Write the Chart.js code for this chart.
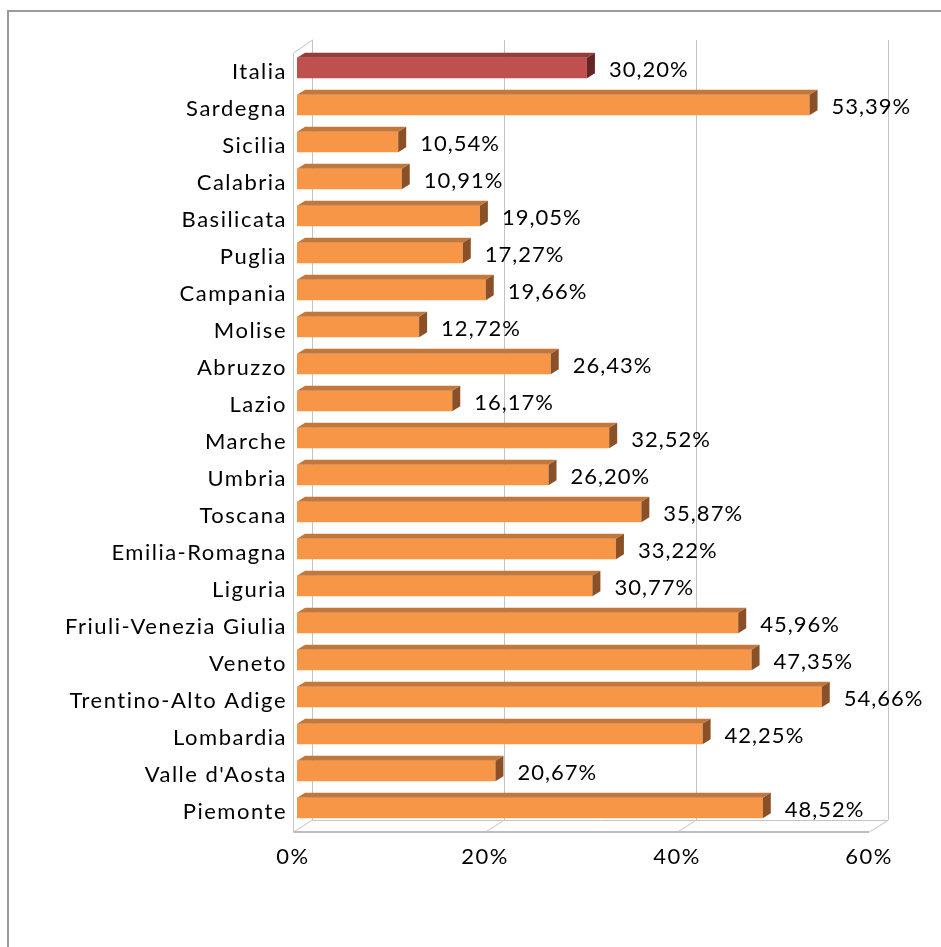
<!DOCTYPE html>
<html>
<head>
<meta charset="utf-8">
<script src="https://cdn.jsdelivr.net/npm/chart.js@4"></script>
<style>
html,body{margin:0;padding:0;background:#fff;}
canvas{display:block;}
</style>
</head>
<body>
<canvas id="c" width="941" height="947"></canvas>
<script>
const categories = ['Italia','Sardegna','Sicilia','Calabria','Basilicata','Puglia','Campania','Molise','Abruzzo','Lazio','Marche','Umbria','Toscana','Emilia-Romagna','Liguria','Friuli-Venezia Giulia','Veneto','Trentino-Alto Adige','Lombardia',"Valle d'Aosta",'Piemonte'];
const values = [30.20,53.39,10.54,10.91,19.05,17.27,19.66,12.72,26.43,16.17,32.52,26.20,35.87,33.22,30.77,45.96,47.35,54.66,42.25,20.67,48.52];
const xTicks = [0,20,40,60];
const highlight = 'Italia';

const FONT = 'Lato, "Open Sans", sans-serif';
const LS = '1.5px';
const colFront = {o:'#F79646', r:'#C0504D'};
const colTop = {o:'#C4773A', r:'#943D3B'};
const colSide = {o:'#8A5027', r:'#632624'};
const DX = 8, DY = -5;
const fmt = v => v.toFixed(2).replace('.', ',') + '%';

const box3d = {
  id: 'box3d',
  beforeDraw(chart) {
    const ctx = chart.ctx;
    ctx.save();
    ctx.fillStyle = '#fff';
    ctx.fillRect(0,0,chart.width,chart.height);
    ctx.strokeStyle = '#9a9a9a';
    ctx.lineWidth = 2;
    ctx.strokeRect(8, 11, 960, 960);
    ctx.restore();
    ctx.letterSpacing = LS;
  },
  beforeDatasetsDraw(chart) {
    const ctx = chart.ctx;
    const xs = chart.scales.x, a = chart.chartArea;
    const fT = a.top + 3.5, fB = a.bottom + 5.5, bT = a.top - 9.5, bB = a.bottom - 6.5;
    const fx = v => xs.getPixelForValue(v) - 4;
    const bx = v => xs.getPixelForValue(v) + 15;
    ctx.save();
    ctx.letterSpacing = '0px';
    ctx.lineWidth = 1;
    ctx.strokeStyle = '#c4c4c4';
    const line = (pts) => { ctx.beginPath(); ctx.moveTo(pts[0][0], pts[0][1]); for (let i=1;i<pts.length;i++) ctx.lineTo(pts[i][0], pts[i][1]); ctx.stroke(); };
    xTicks.forEach(t => {
      if (t === xTicks[0]) return;
      const b = Math.round(bx(t)) + 0.5, f = Math.round(fx(t)) + 0.5;
      line([[b, bT], [b, bB], [f, fB]]);
    });
    const f0 = Math.round(fx(xTicks[0])) + 0.5, b0 = Math.round(bx(xTicks[0])) + 0.5;
    line([[f0, fB], [f0, fT], [b0, bT], [b0, bB], [f0, fB]]);
    const fEnd = fx(xTicks[xTicks.length-1]), bEnd = bx(xTicks[xTicks.length-1]);
    line([[b0, Math.round(bB)+0.5], [bEnd, Math.round(bB)+0.5]]);
    ctx.strokeStyle = '#bdbdbd';
    ctx.lineWidth = 2;
    line([[f0, Math.round(fB)], [fEnd, Math.round(fB)]]);
    ctx.restore();
  },
  afterDatasetsDraw(chart) {
    const ctx = chart.ctx;
    const meta = chart.getDatasetMeta(0);
    ctx.save();
    meta.data.forEach((bar, i) => {
      const k = categories[i] === highlight ? 'r' : 'o';
      const h = bar.height, x0 = bar.base, x1 = bar.x, yT = bar.y - h/2, yB = bar.y + h/2;
      ctx.fillStyle = colTop[k];
      ctx.beginPath();
      ctx.moveTo(x0, yT); ctx.lineTo(x0+DX, yT+DY); ctx.lineTo(x1+DX, yT+DY); ctx.lineTo(x1, yT); ctx.closePath(); ctx.fill();
      ctx.fillStyle = colSide[k];
      ctx.beginPath();
      ctx.moveTo(x1, yT); ctx.lineTo(x1+DX, yT+DY); ctx.lineTo(x1+DX, yB+DY); ctx.lineTo(x1, yB); ctx.closePath(); ctx.fill();
      ctx.fillStyle = '#000';
      ctx.font = '22px ' + FONT;
      ctx.textAlign = 'left';
      ctx.textBaseline = 'middle';
      ctx.letterSpacing = '1px';
      ctx.fillText(fmt(values[i]), x1 + 22, bar.y + 1.5);
    });
    ctx.restore();
  },
  afterDraw(chart) { chart.ctx.letterSpacing = '0px'; }
};

new Chart(document.getElementById('c'), {
  type: 'bar',
  data: {
    labels: categories,
    datasets: [{
      data: values,
      backgroundColor: ctx => categories[ctx.dataIndex] === highlight ? colFront.r : colFront.o,
      borderWidth: 0,
      barPercentage: 0.555,
      categoryPercentage: 1
    }]
  },
  options: {
    indexAxis: 'y',
    responsive: false,
    animation: false,
    events: [],
    layout: { padding: { top: 49.5, right: 68, left: 0, bottom: 0 } },
    plugins: { legend: { display: false }, tooltip: { enabled: false } },
    scales: {
      x: {
        min: 0, max: 60,
        afterBuildTicks: s => { s.ticks = xTicks.map(v => ({ value: v })); },
        ticks: { callback: v => v + '%', color: '#000', font: { family: FONT, size: 22 }, padding: 17, labelOffset: -4, maxRotation: 0 },
        grid: { display: false, drawTicks: false },
        border: { display: false },
        afterFit: s => { s.height = 120.5; }
      },
      y: {
        ticks: { color: '#000', font: { family: FONT, size: 22 }, padding: 10, labelOffset: 4, autoSkip: false },
        grid: { display: false, drawTicks: false },
        border: { display: false },
        afterFit: s => { s.width = 297; }
      }
    }
  },
  plugins: [box3d]
});
</script>
</body>
</html>
